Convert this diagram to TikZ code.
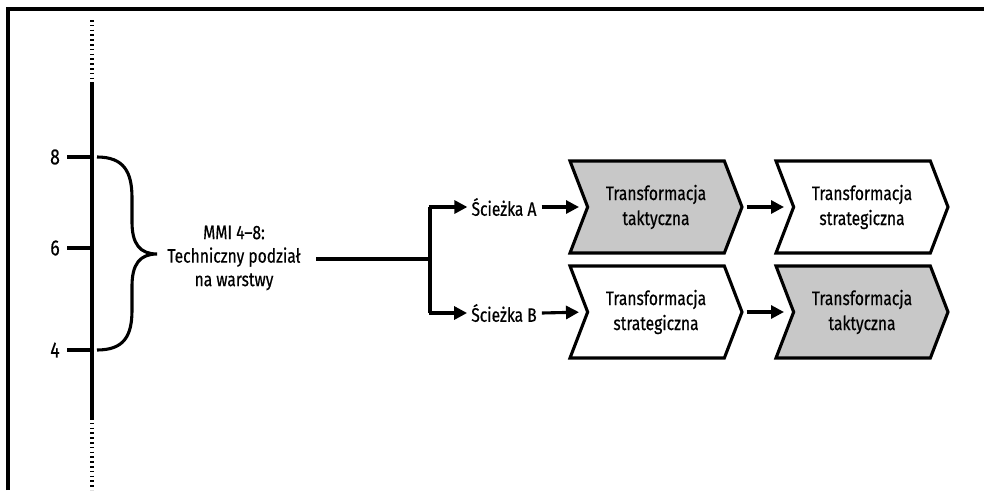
\documentclass[tikz,border=0pt]{standalone}
\usepackage{fontspec}
\setmainfont{Fira Sans}[FakeStretch=0.80,FakeBold=0.5]
\usetikzlibrary{arrows.meta,shapes.symbols,calc}
\definecolor{chevgray}{RGB}{200,200,200}
\begin{document}
\begin{tikzpicture}[x=1pt,y=-1pt,
  lbl/.style={font=\fontsize{19.5}{23.5}\selectfont, align=center, inner sep=0pt},
  digit/.style={font=\fontsize{22}{24}\selectfont, inner sep=0pt},
  heavy/.style={line width=3.1pt},
  dots/.style={line width=3.1pt, dash pattern=on 1.6pt off 3.2pt},
  arr/.style={heavy, -{Triangle[length=13pt,width=13pt]}},
  chev/.style={signal, signal to=east, signal from=west, signal pointer angle=138,
    draw, line width=3.1pt, minimum width=172pt, minimum height=92pt, inner sep=0pt,
    font=\fontsize{19.5}{25}\selectfont, align=center},
  shaded/.style={chev, fill=chevgray},
  plain/.style={chev, fill=white}]
\useasboundingbox (0,0) rectangle (984,490);

% page frame (top and left edges)
\draw[line width=3.6pt] (8,490) -- (8,9) -- (984,9);

% maturity axis
\coordinate (axtop) at (92,20);
\coordinate (axs) at (92,84);
\coordinate (axe) at (92,418);
\coordinate (axbot) at (92,490);
\draw[dots] (axtop) -- (axs);
\draw[heavy] (axs) -- (axe);
\draw[dots] (axe) -- (axbot);

% ticks and labels
\foreach \v/\yy in {8/157, 6/248, 4/350}{
  \coordinate (t\v) at (92,\yy);
  \coordinate (s\v) at (67,\yy);
  \draw[heavy] (s\v) -- (t\v);
  \node[digit] (n\v) at (55,\yy) {\v};
}

% curly brace spanning levels 4 to 8
\coordinate (bt) at (97,157);
\coordinate (bb) at (97,350);
\coordinate (tip) at (157,254);
\draw[heavy] (bt) .. controls (124,157) and (132,172) .. (132,198)
  -- (132,222) .. controls (132,244) and (140,254) .. (tip)
  .. controls (140,254) and (132,264) .. (132,286)
  -- (132,310) .. controls (132,336) and (124,350) .. (bb);

\node[lbl] (mmi) at (234,258) {MMI 4--8:\\Techniczny podział\\na warstwy};

% branching into the two paths
\coordinate (stem) at (316,259);
\coordinate (fork) at (430,259);
\coordinate (forka) at (430,207);
\coordinate (forkb) at (430,313);
\draw[heavy] (stem) -- (fork);
\draw[heavy] (forka) -- (forkb);

\node[lbl] (pa) at (504,207) {Ścieżka A};
\node[lbl] (pb) at (504,313) {Ścieżka B};
\draw[arr] ([xshift=-1.5pt]forka) -- ([xshift=-4pt]pa.west);
\draw[arr] ([xshift=-1.5pt]forkb) -- ([xshift=-4pt]pb.west);

% transformation steps
\node[shaded] (c1) at (656,207) {Transformacja\\taktyczna};
\node[plain]  (c2) at (862,207) {Transformacja\\strategiczna};
\node[plain]  (c3) at (656,312) {Transformacja\\strategiczna};
\node[shaded] (c4) at (862,312) {Transformacja\\taktyczna};

\draw[arr, shorten >=7pt] ([xshift=5pt]pa.east) -- (c1.west);
\draw[arr, shorten >=7pt] ([xshift=5pt]pb.east) -- (c3.west);
\draw[arr, shorten >=8pt] ([xshift=3pt]c1.east) -- (c2.west);
\draw[arr, shorten >=8pt] ([xshift=3pt]c3.east) -- (c4.west);
\end{tikzpicture}
\end{document}
